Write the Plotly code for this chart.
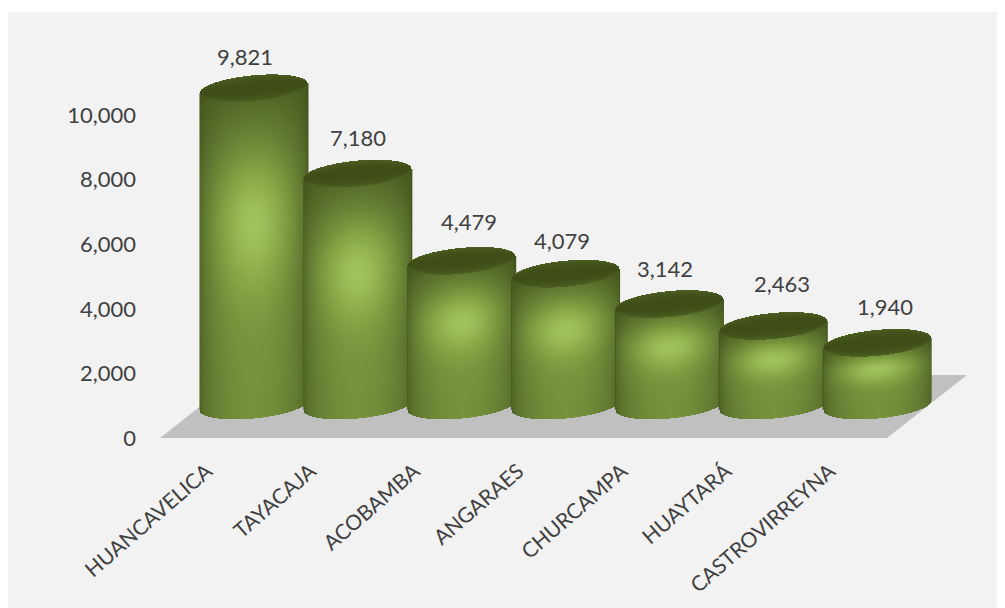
import numpy as np
import plotly.graph_objects as go

# ---- data ----
categories = ["HUANCAVELICA", "TAYACAJA", "ACOBAMBA", "ANGARAES", "CHURCAMPA", "HUAYTARÁ", "CASTROVIRREYNA"]
values = [9821, 7180, 4479, 4079, 3142, 2463, 1940]
y_ticks = [0, 2000, 4000, 6000, 8000, 10000]

# ---- layout constants ----
OFF = 8                                     # page margin around the figure
W, H = 1005 - OFF, 608 - OFF
PL, PR, PT, PB = 150 - OFF, 980 - OFF, 12 - OFF, 438 - OFF   # plot area in figure pixels
PX_PER_CAT = 103.86
PX_PER_UNIT = 0.0323
X0 = (PL - (160 - OFF)) / PX_PER_CAT - 0.5
X1 = (PR - (160 - OFF)) / PX_PER_CAT - 0.5
Y1 = (PB - PT) / PX_PER_UNIT
DEPTH_UNITS = 1000                          # base of cylinders above the front floor edge
SHIFT_CAT = 0.405                           # cylinder centre relative to the tick
TICK_NUDGE = -0.05                          # category labels sit a little left of the tick
FLOOR_BACK_CAT = 0.77
FLOOR_BACK_UNITS = 1950
A, B, TILT = 54.0, 13.0, 0.09               # half-width, half-height, tilt (px)
# per-label nudges in pixels (x, y)
label_dx = [-9, 0, 7, -4, -4, 9, 8]
label_dy = [0, -5, -8, -2, -4, -11, -5]

colorscale = [[0, "#3d4c17"], [0.18, "#4a5c20"], [0.4, "#5f7630"], [0.7, "#7f9e41"], [1, "#a0c25b"]]


def cylinder(i, v):
    cx = i + SHIFT_CAT
    top_u, base_u = v + DEPTH_UNITS, DEPTH_UNITS
    top_px, base_px = top_u * PX_PER_UNIT, base_u * PX_PER_UNIT
    dx = np.arange(-A, A + 1, 1.0)
    py = np.arange(base_px - B - 6, top_px + B + 7, 1.0)   # px above the axis zero
    gx, gy = np.meshgrid(dx, py)
    up = gy - TILT * gx                                    # un-tilted height
    rim = B * np.sqrt(np.clip(1 - (gx / A) ** 2, 0, 1))
    inside_body = (up >= base_px - rim) & (up <= top_px + rim) & (np.abs(gx) <= A)
    cap = (np.abs(up - top_px) <= rim)
    u = gx / A
    t = np.clip((top_px - up) / max(top_px - base_px, 1), -0.1, 1.1)
    peak = 0.43
    base = np.where(
        t < peak,
        0.24 + 0.42 * np.sin(np.clip(t, 0, 1) / peak * np.pi / 2),
        0.66 - 0.06 * (np.clip(t, 0, 1) - peak) / (1 - peak),
    )
    bump = 0.34 * np.exp(-((gx / 38.0) ** 2) - ((t - peak) / 0.20) ** 2)
    horiz = 0.28 + 0.72 * np.clip(np.cos(u * np.pi / 2), 0, 1) ** 0.45
    z = (base + bump) * horiz
    z = np.where(cap, 0.02 + 0.20 * np.abs((up - top_px) / (rim + 0.01)) ** 3, z)
    z = np.where(inside_body, z, np.nan)
    return go.Heatmap(
        x=cx + dx / PX_PER_CAT,
        y=py / PX_PER_UNIT,
        z=z,
        zmin=0,
        zmax=1,
        colorscale=colorscale,
        showscale=False,
        hoverinfo="skip",
    )


fig = go.Figure()
for i, v in enumerate(values):
    fig.add_trace(cylinder(i, v))

floor_path = (
    f"M {-0.5} 0 L {6.5} 0 "
    f"L {6.5 + FLOOR_BACK_CAT} {FLOOR_BACK_UNITS} L {-0.5 + FLOOR_BACK_CAT} {FLOOR_BACK_UNITS} Z"
)

shapes = [
    dict(type="rect", xref="paper", yref="paper", layer="below",
         x0=(0 - PL) / (PR - PL), x1=(W + 5 - PL) / (PR - PL),
         y0=(PB - (H + 5)) / (PB - PT), y1=(PB - (12 - OFF)) / (PB - PT),
         fillcolor="#f2f2f2", line=dict(width=0)),
    dict(type="path", xref="x", yref="y", layer="below", path=floor_path,
         fillcolor="#c0c0c0", line=dict(width=0)),
]

annotations = [
    dict(x=i + SHIFT_CAT, y=v + DEPTH_UNITS, xref="x", yref="y", text=f"{v:,}",
         showarrow=False, xanchor="center", yanchor="bottom",
         xshift=label_dx[i], yshift=B + 3 - label_dy[i],
         font=dict(family="Lato", size=22, color="#404040"))
    for i, v in enumerate(values)
]

fig.update_layout(
    width=W,
    height=H,
    margin=dict(l=PL, r=W - PR, t=PT, b=H - PB, pad=0),
    paper_bgcolor="white",
    plot_bgcolor="rgba(0,0,0,0)",
    showlegend=False,
    shapes=shapes,
    annotations=annotations,
    font=dict(family="Lato", size=22, color="#404040"),
    xaxis=dict(
        range=[X0, X1], tickvals=[i + TICK_NUDGE for i in range(len(categories))], ticktext=categories,
        tickangle=-41, showgrid=False, zeroline=False, showline=False, ticks="",
        ticklabelstandoff=16, tickfont=dict(size=21), automargin=False,
    ),
    yaxis=dict(
        range=[0, Y1], tickvals=y_ticks, tickformat=",d",
        showgrid=False, zeroline=False, showline=False, ticks="",
        ticklabelstandoff=13, automargin=False,
    ),
)

fig.write_html("out.html")
